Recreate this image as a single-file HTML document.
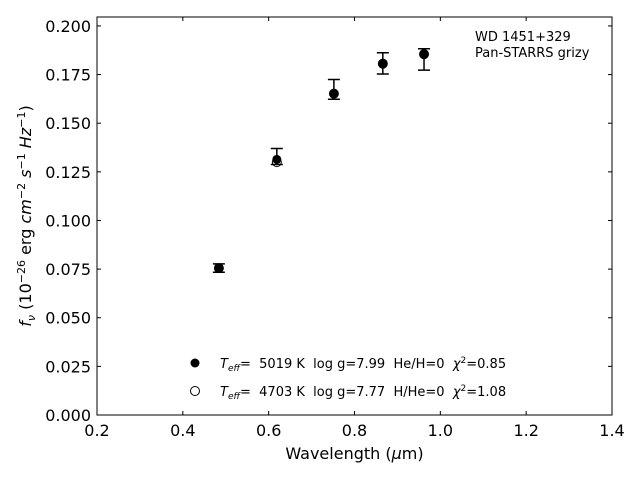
<!DOCTYPE html>
<html><head><meta charset="utf-8"><style>
body{margin:0;background:#fff;}
svg text{font-family:"DejaVu Sans","Liberation Sans",sans-serif;fill:#000;white-space:pre;}
</style></head><body>
<svg id="chart" width="640" height="480" xmlns="http://www.w3.org/2000/svg" xml:space="preserve">
<rect x="0" y="0" width="640" height="480" fill="#fff"/>
<g id="marks"></g>
<rect x="97" y="17" width="515" height="398" fill="none" stroke="#000" stroke-width="1"/>
<g id="axes"></g>
<text x="354.5" y="459" font-size="16" text-anchor="middle">Wavelength (<tspan font-style="italic">μ</tspan>m)</text>
<text transform="translate(31,216) rotate(-90)" font-size="16" text-anchor="middle"><tspan font-style="italic">f</tspan><tspan font-style="italic" font-size="11" dy="4">ν</tspan><tspan dy="-4"> (10</tspan><tspan font-size="11" dy="-6">−26</tspan><tspan dy="6"> erg </tspan><tspan font-style="italic">cm</tspan><tspan font-size="11" dy="-6">−2</tspan><tspan dy="6" font-style="italic"> s</tspan><tspan font-size="11" dy="-6">−1</tspan><tspan dy="6" font-style="italic"> Hz</tspan><tspan font-size="11" dy="-6">−1</tspan><tspan dy="6">)</tspan></text>
<text x="475" y="41" font-size="13">WD 1451+329</text>
<text x="475" y="57" font-size="13">Pan-STARRS grizy</text>
<g>
<circle cx="195" cy="363" r="4.5" fill="#000"/>
<text x="220" y="368" font-size="13"><tspan font-style="italic">T</tspan><tspan font-style="italic" font-size="9" dy="3">eff</tspan><tspan dy="-3">=  5019 K  log g=7.99  He/H=0  </tspan><tspan font-style="italic">χ</tspan><tspan font-size="9" dy="-5">2</tspan><tspan dy="5">=0.85</tspan></text>
<circle cx="195" cy="391" r="4.5" fill="#fff" stroke="#000" stroke-width="1"/>
<text x="220" y="396" font-size="13"><tspan font-style="italic">T</tspan><tspan font-style="italic" font-size="9" dy="3">eff</tspan><tspan dy="-3">=  4703 K  log g=7.77  H/He=0  </tspan><tspan font-style="italic">χ</tspan><tspan font-size="9" dy="-5">2</tspan><tspan dy="5">=1.08</tspan></text>
</g>
</svg>
<script>
const wavelengths=[0.484,0.619,0.752,0.866,0.962];
const fluxObs=[0.0756,0.1314,0.1650,0.1805,0.1857];
const errLow=[0.0734,0.1288,0.1623,0.1753,0.1773];
const errHigh=[0.0777,0.1370,0.1725,0.1862,0.1883];
const fluxModel=[0.0755,0.1300,0.1652,0.1806,0.1855];
const xTicks=[0.2,0.4,0.6,0.8,1.0,1.2,1.4];
const xTickLabels=["0.2","0.4","0.6","0.8","1.0","1.2","1.4"];
const yTicks=[0,0.025,0.05,0.075,0.1,0.125,0.15,0.175,0.2];
const yTickLabels=["0.000","0.025","0.050","0.075","0.100","0.125","0.150","0.175","0.200"];
const L=97,R=612,T=17,B=415,XMIN=0.2,XMAX=1.4,YMIN=0,YMAX=0.2046;
const sx=v=>L+(v-XMIN)/(XMAX-XMIN)*(R-L);
const sy=v=>B-(v-YMIN)/(YMAX-YMIN)*(B-T);
const NS="http://www.w3.org/2000/svg";
function mk(tag,attrs,parent){const e=document.createElementNS(NS,tag);for(const k in attrs)e.setAttribute(k,attrs[k]);parent.appendChild(e);return e;}
const axes=document.getElementById('axes'),marks=document.getElementById('marks');
xTicks.forEach((t,i)=>{const x=sx(t);
const a=mk('line',{x1:x,x2:x,y1:B,y2:B-4,stroke:'#000'},axes);


const b=mk('line',{x1:x,x2:x,y1:T,y2:T+4,stroke:'#000'},axes);


const tx=mk('text',{x:x,y:B+21,'font-size':16,'text-anchor':'middle'},axes);tx.textContent=xTickLabels[i];

});
yTicks.forEach((t,i)=>{const y=sy(t);
const a=mk('line',{x1:L,x2:L+4,y1:y,y2:y,stroke:'#000'},axes);


const b=mk('line',{x1:R,x2:R-4,y1:y,y2:y,stroke:'#000'},axes);


const tx=mk('text',{x:L-6,y:y+6,'font-size':16,'text-anchor':'end'},axes);tx.textContent=yTickLabels[i];

});
wavelengths.forEach((w,i)=>{const x=sx(w);
const m=mk('circle',{cx:x,cy:sy(fluxModel[i]),r:4.5,fill:'#fff',stroke:'#000','stroke-width':1},marks);


const e=mk('path',{d:`M${x},${sy(errLow[i])}V${sy(errHigh[i])}M${x-6},${sy(errLow[i])}H${x+6}M${x-6},${sy(errHigh[i])}H${x+6}`,stroke:'#000','stroke-width':1.5,fill:'none'},marks);


const c=mk('circle',{cx:x,cy:sy(fluxObs[i]),r:4.5,fill:'#000'},marks);

});
</script>
</body></html>
